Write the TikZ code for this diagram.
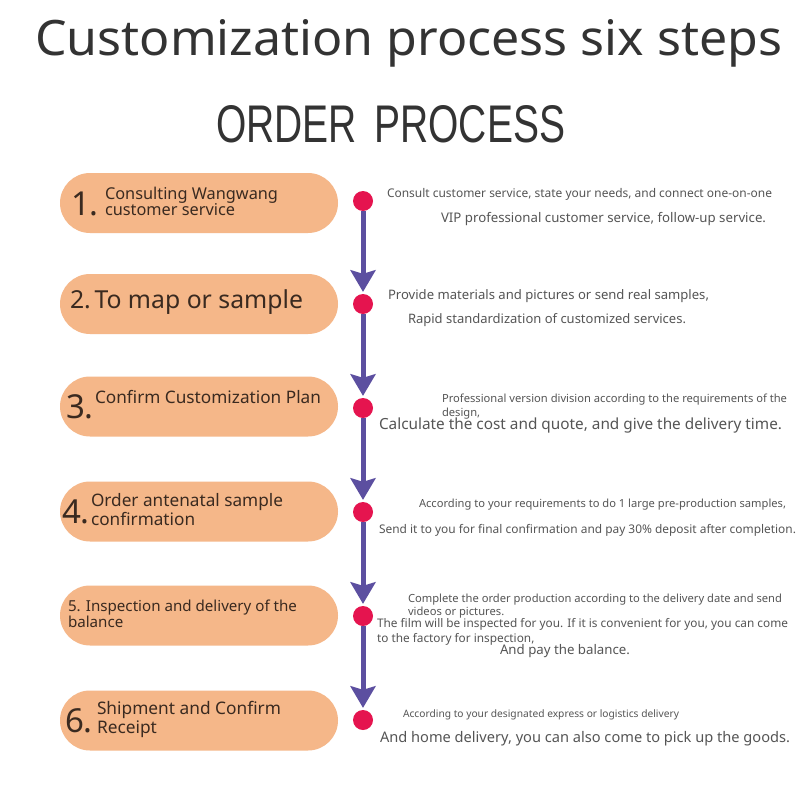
\documentclass[tikz,border=0pt]{standalone}
\usepackage{fontspec}
\usepackage{graphicx}
\setmainfont{Noto Sans}
\newfontfamily\narrowfont{Liberation Sans}
\usetikzlibrary{calc,shapes.misc}
\definecolor{pillfill}{HTML}{F5B789}
\definecolor{pilltext}{HTML}{3A2A20}
\definecolor{rtxt}{HTML}{555555}
\definecolor{ttl}{HTML}{333333}
\definecolor{dotc}{HTML}{E5144F}
\definecolor{linec}{HTML}{5C4FA0}
\newcommand{\fw}[2]{\resizebox{#1pt}{!}{#2}}
\newcommand{\fwh}[3]{\resizebox{#1pt}{#2pt}{#3}}
\newcommand{\fs}[2]{\fontsize{#1}{#2}\selectfont}
\newcommand{\twol}[2]{\def\arraystretch{1}\begin{tabular}[t]{@{}l@{}}#1\\#2\end{tabular}}
\newcommand{\ahead}[1]{\fill[linec] ($(#1.north)+(0,-2)$) -- ++(-13,-22) -- ++(13,4) -- ++(13,-4) -- cycle;}
\tikzset{
  pill/.style={rounded rectangle, fill=pillfill, minimum width=278pt, minimum height=60pt, inner sep=0pt},
  txt/.style={anchor=base west, inner sep=0pt, outer sep=0pt, text=rtxt},
  ptxt/.style={anchor=base west, inner sep=0pt, outer sep=0pt, text=pilltext},
  dotn/.style={circle, fill=dotc, minimum size=20pt, inner sep=0pt},
  flow/.style={line width=5pt, draw=linec, shorten >=10pt}
}
\begin{document}
\begin{tikzpicture}[x=1pt,y=-1pt]
\useasboundingbox (0,0) rectangle (800,800);
\fill[white] (0,0) rectangle (800,800);
% titles
\node[anchor=base west, inner sep=0pt, text=ttl] (title) at (35,56) {\fwh{747}{36}{\fs{50}{50}Customization process six steps}};
\node[anchor=base west, inner sep=0pt, text=ttl] (order) at (216,142) {\fwh{349}{37}{\narrowfont\fs{40}{40}ORDER\hspace{0.45em}PROCESS}};
% pills
\node[pill] (p1) at (199,203) {};
\node[pill] (p2) at (199,304) {};
\node[pill] (p3) at (199,406.5) {};
\node[pill] (p4) at (199,511.5) {};
\node[pill] (p5) at (199,615.5) {};
\node[pill] (p6) at (199,720.5) {};
% pill texts
\node[ptxt] (n1) at (71,215) {\fs{33}{33}1.};
\node[ptxt] (t1) at (105,199) {\fw{173}{\fs{16}{16}\twol{Consulting Wangwang}{customer service}}};
\node[ptxt] (t2) at (70,308) {\fw{233}{\fs{24}{24}2.\hspace{0.15em}To map or sample}};
\node[ptxt] (n3) at (66,418) {\fs{33}{33}3.};
\node[ptxt] (t3) at (95,403) {\fw{226}{\fs{16}{16}Confirm Customization Plan}};
\node[ptxt] (n4) at (62,523) {\fs{33}{33}4.};
\node[ptxt] (t4) at (91,506) {\fw{192}{\fs{16}{18}\twol{Order antenatal sample}{confirmation}}};
\node[ptxt] (t5) at (68,611) {\fw{229}{\fs{14.5}{16}\twol{5. Inspection and delivery of the}{balance}}};
\node[ptxt] (n6) at (65,732) {\fs{33}{33}6.};
\node[ptxt] (t6) at (97,714) {\fw{184}{\fs{16}{18}\twol{Shipment and Confirm}{Receipt}}};
% dots
\node[dotn] (d1) at (363,201) {};
\node[dotn] (d2) at (363,304) {};
\node[dotn] (d3) at (363,408) {};
\node[dotn] (d4) at (363,512) {};
\node[dotn] (d5) at (363,616) {};
\node[dotn] (d6) at (363,720) {};
\draw[flow] (d1) -- (d2); \ahead{d2}
\draw[flow] (d2) -- (d3); \ahead{d3}
\draw[flow] (d3) -- (d4); \ahead{d4}
\draw[flow] (d4) -- (d5); \ahead{d5}
\draw[flow] (d5) -- (d6); \ahead{d6}
% right texts
\node[txt] (r1a) at (387,197) {\fw{385}{\fs{11.7}{14}Consult customer service, state your needs, and connect one-on-one}};
\node[txt] (r1b) at (441,222) {\fw{325}{\fs{12.3}{14}VIP professional customer service, follow-up service.}};
\node[txt] (r2a) at (388,299) {\fw{321}{\fs{12.3}{14}Provide materials and pictures or send real samples,}};
\node[txt] (r2b) at (408,323) {\fw{278}{\fs{12.4}{14}Rapid standardization of customized services.}};
\node[txt] (r3a) at (442,402) {\fw{345}{\fs{10.3}{13}\twol{Professional version division according to the requirements of the}{design,}}};
\node[txt] (r3b) at (379,429) {\fw{403}{\fs{14.1}{16}Calculate the cost and quote, and give the delivery time.}};
\node[txt] (r4a) at (419,507) {\fw{367}{\fs{10.8}{13}According to your requirements to do 1 large pre-production samples,}};
\node[txt] (r4b) at (379,533) {\fw{417}{\fs{11.3}{13}Send it to you for final confirmation and pay 30\% deposit after completion.}};
\node[txt] (r5a) at (408,602) {\fw{374}{\fs{10.7}{13}\twol{Complete the order production according to the delivery date and send}{videos or pictures.}}};
\node[txt] (r5b) at (377,627) {\fw{411}{\fs{10.7}{14}\twol{The film will be inspected for you. If it is convenient for you, you can come}{to the factory for inspection,}}};
\node[txt] (r5c) at (500,654) {\fw{130}{\fs{13}{14}And pay the balance.}};
\node[txt] (r6a) at (403,717) {\fw{276}{\fs{9.4}{12}According to your designated express or logistics delivery}};
\node[txt] (r6b) at (380,742) {\fw{410}{\fs{14.1}{16}And home delivery, you can also come to pick up the goods.}};
\end{tikzpicture}
\end{document}
